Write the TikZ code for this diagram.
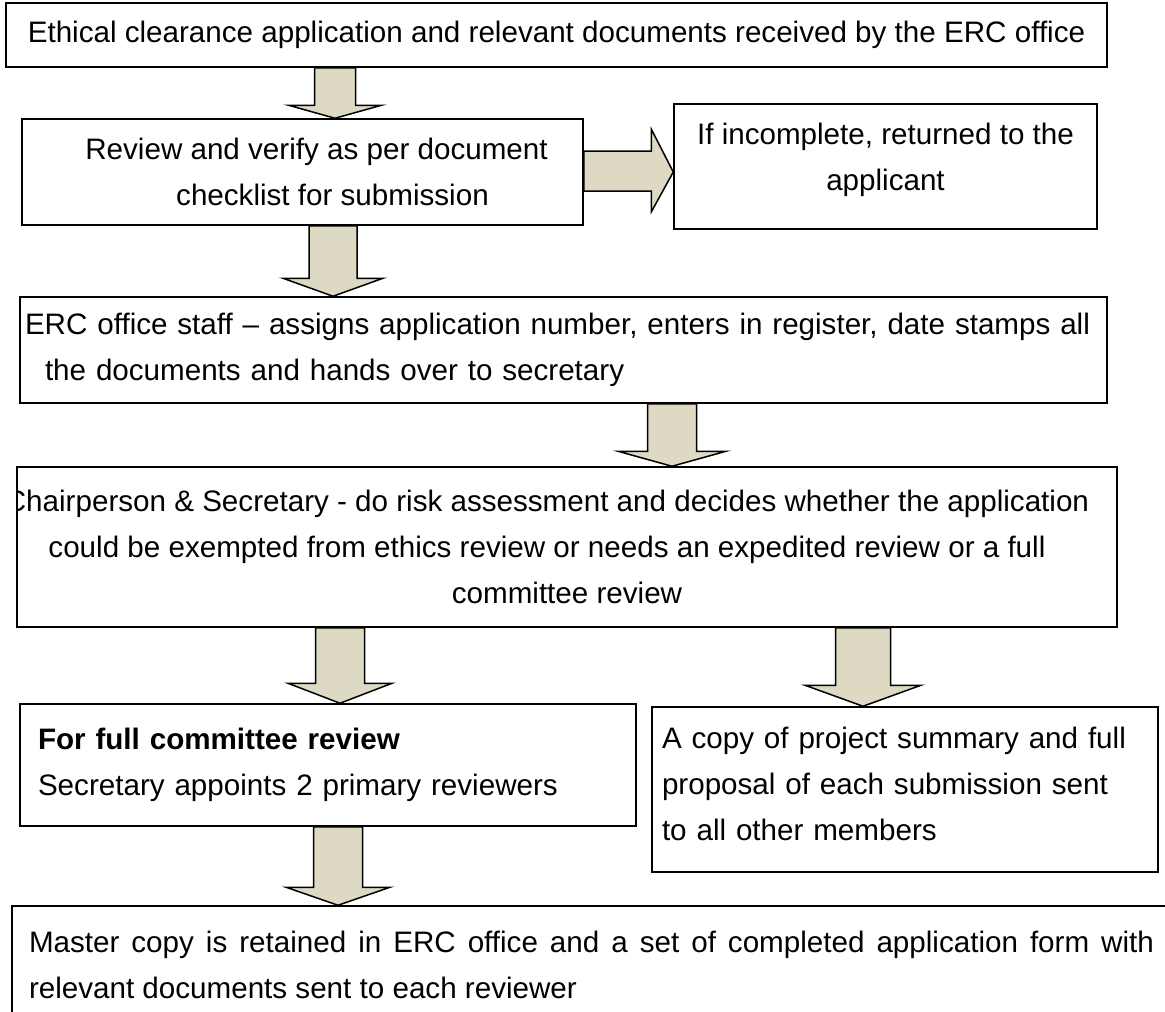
\documentclass[tikz,border=0pt]{standalone}
\usepackage{fontspec}
\setmainfont{Liberation Sans}
\usepackage{xcolor}
\usepackage{tikz}
\usetikzlibrary{calc}

\definecolor{khaki}{RGB}{221,217,195}

\tikzset{
  stepbox/.style={draw=black, line width=1.5pt, inner sep=0pt, align=center,
    font=\fontsize{29.6}{46}\selectfont},
  blockarrow/.style={draw=black, line width=1.5pt, fill=khaki}
}

\begin{document}
\begin{tikzpicture}[x=1pt, y=-1pt]
            \useasboundingbox (0,0) rectangle (1165,1012);
            \fill[white] (0,0) rectangle (1165,1012);
            % the boxes of the flow
            \node[stepbox, minimum width=1101pt, minimum height=64pt] (recv) at (556.5,35)
                {Ethical clearance application and relevant documents received by the ERC office};
            \node[stepbox, minimum width=561pt, minimum height=106pt] (check) at (302.5,172)
                {\hspace*{28pt}Review and verify as per document\\\hspace*{60pt}checklist for submission};
            \node[stepbox, minimum width=423pt, minimum height=125pt, text depth=20pt] (inc) at (885.5,166.5)
                {If incomplete, returned to the\\applicant};
            \node[stepbox, align=left, text width=1077pt, inner xsep=5pt, minimum height=106pt] (staff) at (563.5,350)
                {ERC office staff -- assigns application number, enters in register, date stamps all\\
                 \hspace*{20pt}the documents and hands over to secretary};
            % first line runs past the left border, so it is cut there
            \begin{scope}
            \clip (16,460) rectangle (1125,635);
            \node[stepbox, minimum width=1100pt, minimum height=160pt] (chair) at (567,547)
                {\hspace*{-40pt}Chairperson \& Secretary - do risk assessment and decides whether the application\\
                 \hspace*{-40pt}could be exempted from ethics review or needs an expedited review or a full\\
                 committee review};
            \end{scope}
            \node[stepbox, align=left, text width=580pt, inner xsep=18pt, minimum height=122pt] (full) at (328,765)
                {\textbf{For full committee review}\\Secretary appoints 2 primary reviewers};
            \node[stepbox, align=left, text width=486pt, inner xsep=10pt, minimum height=165pt, text depth=104pt] (copy) at (905,789.5)
                {A copy of project summary and full\\proposal of each submission sent\\to all other members};
            \node[stepbox, align=justify, text width=1125pt, inner xsep=17pt, minimum height=132pt, text depth=60pt] (master) at (591.5,972)
                {Master copy is retained in ERC office and a set of completed application form with\linebreak
                 relevant documents sent to each reviewer};
            % downward block arrows: x, shaft half width, head half width, head height
            \foreach \ax/\sw/\hw/\hh/\from/\to in
            {335/20.5/46.5/13/recv/check, 333/24/50/18/check/staff,
             672/24.5/54/15/staff/chair, 340/24.5/52/20/chair/full,
             863/27.5/58/21/chair/copy, 338/24.5/52/18/full/master}
            \filldraw[blockarrow] let \p1=(\from.south), \p2=(\to.north) in
                (\ax pt-\sw pt,\y1) -- (\ax pt+\sw pt,\y1) -- (\ax pt+\sw pt,\y2+\hh pt)
                -- (\ax pt+\hw pt,\y2+\hh pt) -- (\ax pt,\y2) -- (\ax pt-\hw pt,\y2+\hh pt)
                -- (\ax pt-\sw pt,\y2+\hh pt) -- cycle;
            % sideways arrow to the return box
            \filldraw[blockarrow] let \p1=(check.east), \p2=(inc.west) in
                (\x1,\y1+21pt) -- (\x2-22pt,\y1+21pt) -- (\x2-22pt,\y1+43pt) -- (\x2,\y1)
                -- (\x2-22pt,\y1-40pt) -- (\x2-22pt,\y1-19pt) -- (\x1,\y1-19pt) -- cycle;
      \end{tikzpicture}
\end{document}
